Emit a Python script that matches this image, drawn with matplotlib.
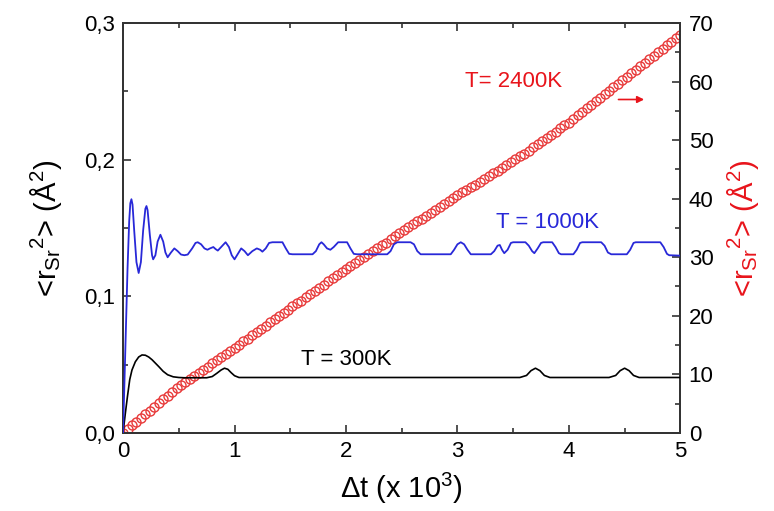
import numpy as np
import matplotlib.pyplot as plt
from matplotlib.ticker import MultipleLocator

plt.rcParams['font.family'] = ['Liberation Sans', 'DejaVu Sans']
plt.rcParams['mathtext.fontset'] = 'custom'
plt.rcParams['mathtext.rm'] = 'Liberation Sans'
plt.rcParams['mathtext.it'] = 'Liberation Sans'

# T = 300K (left axis)
t_300 = [0, 0.02, 0.04, 0.06, 0.08, 0.11, 0.14, 0.17, 0.2, 0.23, 0.26, 0.29, 0.32,
         0.36, 0.4, 0.45, 0.5, 0.55, 0.75, 0.8, 0.84, 0.88, 0.91, 0.94, 0.97, 1.0,
         1.04, 3.56, 3.62, 3.66, 3.7, 3.74, 3.78, 3.83, 4.36, 4.42, 4.46, 4.5, 4.54,
         4.58, 4.63, 5.0]
msd_300 = [0, 0.014, 0.027, 0.039, 0.046, 0.052, 0.0555, 0.057, 0.0568, 0.0555, 0.0535,
           0.051, 0.0485, 0.045, 0.0425, 0.041, 0.0405, 0.0403, 0.0403, 0.0412, 0.0435,
           0.046, 0.0473, 0.0465, 0.044, 0.0418, 0.0405, 0.0405, 0.042, 0.0455, 0.0473,
           0.0455, 0.042, 0.0405, 0.0405, 0.042, 0.0455, 0.0473, 0.0455, 0.042, 0.0405,
           0.0405]

# T = 1000K (left axis)
t_1000 = [0, 0.02, 0.04, 0.055, 0.065, 0.075, 0.085, 0.1, 0.12, 0.14, 0.16, 0.18, 0.2,
          0.21, 0.22, 0.24, 0.26, 0.27, 0.29, 0.31, 0.335, 0.36, 0.38, 0.4, 0.43, 0.46,
          0.49, 0.52, 0.55, 0.58, 0.62, 0.65, 0.67, 0.7, 0.73, 0.757, 0.78, 0.81, 0.83,
          0.85, 0.88, 0.92, 0.95, 0.975, 1.0, 1.03, 1.06, 1.09, 1.12, 1.16, 1.2, 1.23,
          1.25, 1.28, 1.31, 1.34, 1.43, 1.46, 1.49, 1.52, 1.7, 1.73, 1.76, 1.78, 1.8,
          1.83, 1.86, 1.89, 1.93, 2.01, 2.04, 2.07, 2.1, 2.37, 2.4, 2.43, 2.46, 2.58,
          2.61, 2.64, 2.67, 2.94, 2.97, 3.0, 3.03, 3.06, 3.09, 3.12, 3.3, 3.33, 3.36,
          3.38, 3.4, 3.42, 3.45, 3.48, 3.5, 3.61, 3.64, 3.67, 3.69, 3.72, 3.75, 3.77,
          3.85, 3.88, 3.91, 3.93, 4.04, 4.07, 4.1, 4.12, 4.29, 4.32, 4.35, 4.38, 4.52,
          4.55, 4.58, 4.6, 4.82, 4.85, 4.88, 4.9, 5.0]
msd_1000 = [0, 0.06, 0.12, 0.155, 0.168, 0.171, 0.167, 0.148, 0.125, 0.117, 0.125, 0.148,
            0.164, 0.166, 0.163, 0.145, 0.13, 0.127, 0.13, 0.14, 0.145, 0.14, 0.132,
            0.1285, 0.132, 0.135, 0.133, 0.1305, 0.13, 0.1305, 0.135, 0.139, 0.1395,
            0.138, 0.135, 0.134, 0.135, 0.136, 0.1345, 0.1334, 0.136, 0.1395, 0.136,
            0.13, 0.127, 0.131, 0.135, 0.133, 0.13, 0.133, 0.135, 0.134, 0.1326, 0.135,
            0.139, 0.1395, 0.1395, 0.135, 0.131, 0.1307, 0.1307, 0.133, 0.138, 0.1395,
            0.138, 0.135, 0.134, 0.136, 0.1395, 0.1395, 0.135, 0.131, 0.1307, 0.1307,
            0.133, 0.138, 0.1395, 0.1395, 0.138, 0.133, 0.1307, 0.1307, 0.134, 0.138,
            0.1395, 0.138, 0.134, 0.1307, 0.1307, 0.133, 0.137, 0.1375, 0.134, 0.1315,
            0.134, 0.139, 0.1395, 0.1395, 0.137, 0.133, 0.1315, 0.135, 0.139, 0.1395,
            0.1395, 0.136, 0.1315, 0.1307, 0.1307, 0.134, 0.139, 0.1395, 0.1395, 0.137,
            0.132, 0.1307, 0.1307, 0.134, 0.139, 0.1395, 0.1395, 0.136, 0.131, 0.13,
            0.1297]

# T = 2400K (right axis), one value every 0.04 x 10^3 steps
msd_2400 = [0.0, 0.6, 1.3, 1.9, 2.5, 3.2, 3.8, 4.4, 5.1, 5.7, 6.3, 7.0, 7.6, 8.1, 8.7,
            9.2, 9.7, 10.3, 10.8, 11.3, 11.9, 12.4, 12.9, 13.5, 14.0, 14.5, 15.0, 15.6,
            16.1, 16.7, 17.2, 17.8, 18.3, 18.9, 19.4, 20.0, 20.5, 21.0, 21.6, 22.1, 22.6,
            23.2, 23.7, 24.2, 24.8, 25.3, 25.9, 26.4, 26.9, 27.5, 28.0, 28.5, 29.0, 29.5,
            30.0, 30.5, 31.0, 31.5, 32.0, 32.5, 33.1, 33.6, 34.1, 34.6, 35.1, 35.6, 36.1,
            36.6, 37.1, 37.6, 38.1, 38.6, 39.1, 39.6, 40.1, 40.6, 41.1, 41.5, 42.0, 42.4,
            42.9, 43.4, 43.8, 44.3, 44.7, 45.2, 45.7, 46.2, 46.7, 47.2, 47.7, 48.2, 48.8,
            49.3, 49.8, 50.4, 50.9, 51.4, 52.0, 52.5, 53.0, 53.6, 54.2, 54.8, 55.4, 56.0,
            56.6, 57.2, 57.8, 58.4, 59.0, 59.6, 60.2, 60.8, 61.4, 62.0, 62.6, 63.2, 63.8,
            64.4, 65.0, 65.6, 66.2, 66.8, 67.4, 68.0]
t_2400 = np.linspace(0, 5, len(msd_2400))

left_ticks = [0, 0.1, 0.2, 0.3]
left_labels = ['0,0', '0,1', '0,2', '0,3']

fig = plt.figure(figsize=(7.74, 5.11), dpi=100)
ax = fig.add_axes([0.159, 0.153, 0.72, 0.802])
ax2 = ax.twinx()

ax.plot(t_300, msd_300, color='black', lw=1.2, zorder=3)
ax.plot(t_1000, msd_1000, color='#2828d8', lw=1.3, zorder=3)
ax2.plot(t_2400, msd_2400, 'o', mfc='none', mec='#e83a3a', ms=6.5, mew=1.0)

ax.set_zorder(ax2.get_zorder() + 1)
ax.patch.set_visible(False)

ax.set_xlim(0, 5)
ax.set_ylim(0, 0.3)
ax2.set_ylim(0, 70)
ax.set_yticks(left_ticks)
ax.set_yticklabels(left_labels)
ax.xaxis.set_minor_locator(MultipleLocator(0.5))
ax.yaxis.set_minor_locator(MultipleLocator(0.05))
ax2.yaxis.set_major_locator(MultipleLocator(10))
ax2.yaxis.set_minor_locator(MultipleLocator(5))

ax.tick_params(which='both', direction='in', top=True, right=False,
               labelsize=16, color='#333333', width=1.2, pad=6)
ax.tick_params(which='major', length=6)
ax.tick_params(which='minor', length=3.5)
ax2.tick_params(which='both', direction='in', labelsize=16, color='#333333',
                width=1.2, pad=6)
ax2.tick_params(which='major', length=6)
ax2.tick_params(which='minor', length=3.5)
for a in (ax, ax2):
    for s in a.spines.values():
        s.set_linewidth(1.3)
        s.set_color('#333333')

ax.set_xlabel(r'$\Delta$t (x 10$^{3}$)', fontsize=21, labelpad=6)
ax.set_ylabel(r'<r$_{\mathrm{Sr}}$$^{2}$> (Å$^{2}$)', fontsize=21, labelpad=14)
ax2.set_ylabel(r'<r$_{\mathrm{Sr}}$$^{2}$> (Å$^{2}$)', fontsize=21, color='#e8141b',
               labelpad=8)

ax.text(1.6, 0.0535, 'T = 300K', fontsize=16, color='black', va='center')
ax.text(3.35, 0.154, 'T = 1000K', fontsize=16, color='#2828d8', va='center')
ax.text(3.07, 0.2575, 'T= 2400K', fontsize=16, color='#e8141b', va='center')
ax.annotate('', xy=(4.7, 0.244), xytext=(4.42, 0.244),
            arrowprops=dict(arrowstyle='-|>', color='#e8141b', lw=1.2,
                            mutation_scale=10))

fig.savefig('out.png', dpi=100)
